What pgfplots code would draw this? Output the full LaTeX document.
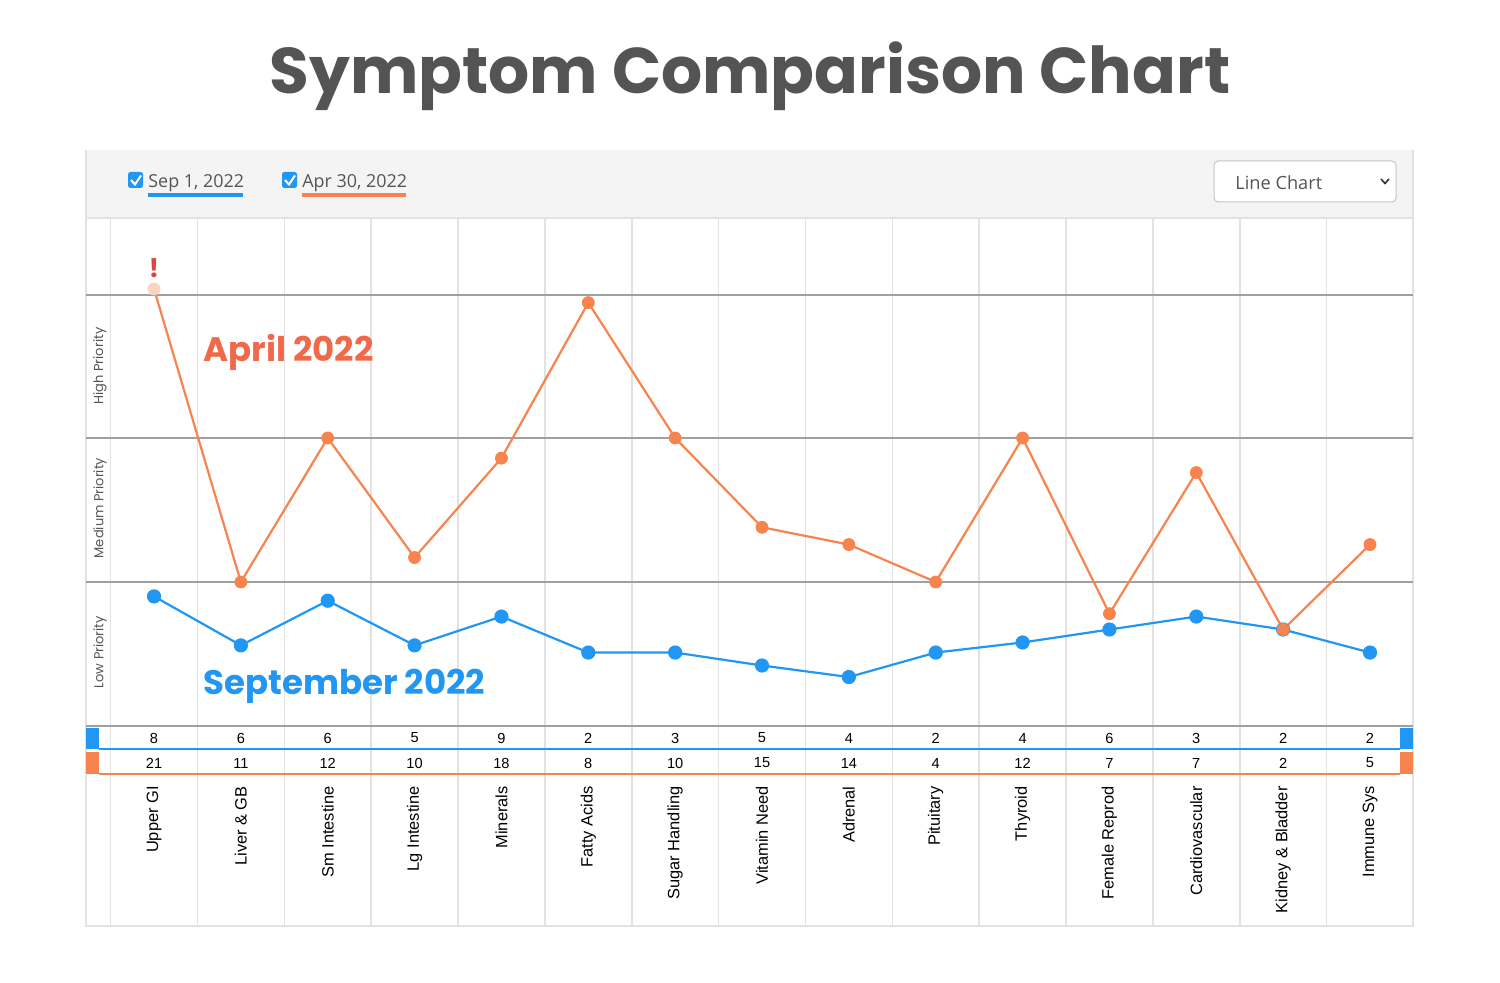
\documentclass[border=0pt]{standalone}
\usepackage{pgfplots}
\usepackage{pgfplotstable}
\pgfplotsset{compat=1.18}
\usepackage{fontspec}
\setmainfont{Liberation Sans}
\newfontfamily\pop{Poppins}
\newfontfamily\opensans{Open Sans}
\newfontfamily\lib{Liberation Sans}

\definecolor{orng}{HTML}{F7844F}
\definecolor{blu}{HTML}{2196F3}
\definecolor{aprt}{HTML}{F0694A}
\definecolor{titlec}{HTML}{545454}
\definecolor{gridc}{HTML}{E2E2E2}
\definecolor{bandc}{HTML}{A0A0A0}
\definecolor{hdr}{HTML}{F4F4F4}
\definecolor{lightor}{HTML}{FBD3C3}
\definecolor{txtg}{HTML}{555555}
\definecolor{exc}{HTML}{D9463F}

\pgfplotstableread[col sep=comma]{
x,sep,apr,sepn,aprn,cat
0,0.90,3.035,8,21,{Upper GI}
1,0.56,1.00,6,11,{Liver \& GB}
2,0.87,2.00,6,12,{Sm Intestine}
3,0.56,1.17,5,10,{Lg Intestine}
4,0.76,1.86,9,18,{Minerals}
5,0.51,2.94,2,8,{Fatty Acids}
6,0.51,2.00,3,10,{Sugar Handling}
7,0.42,1.38,5,15,{Vitamin Need}
8,0.34,1.26,4,14,{Adrenal}
9,0.51,1.00,2,4,{Pituitary}
10,0.58,2.00,4,12,{Thyroid}
11,0.67,0.78,6,7,{Female Reprod}
12,0.76,1.76,3,7,{Cardiovascular}
13,0.67,0.67,2,2,{Kidney \& Bladder}
14,0.51,1.26,2,5,{Immune Sys}
}\datatab

\begin{document}
\begin{tikzpicture}
\useasboundingbox (0,0) rectangle (750pt,491pt);
\begin{scope}[x=0.5pt,y=-0.5pt,yshift=491pt]
  % header
  \fill[hdr] (86,150) rectangle (1413,218);
  \draw[gridc, line width=0.8pt] (86,218) -- (1413,218);
  % verticals
  \foreach \k in {0,...,15} {
    \draw[gridc, line width=0.8pt] ({110.6+\k*86.86},218) -- ({110.6+\k*86.86},926);
  }
  \draw[gridc, line width=0.8pt] (86,150) -- (86,926) -- (1413,926) -- (1413,150);
  % bands
  \foreach \yy in {295,438,582,726} {
    \draw[bandc, line width=1.2pt] (86,\yy) -- (1413,\yy);
  }
  % table rows
  \draw[blu, line width=0.7pt] (99,749) -- (1400,749);
  \draw[orng, line width=0.7pt] (99,774) -- (1400,774);
  \fill[blu] (86,727.5) rectangle (99,749);
  \fill[blu] (1400,727.5) rectangle (1413,749);
  \fill[orng] (86,752) rectangle (99,774);
  \fill[orng] (1400,752) rectangle (1413,774);
  % title
  \node[text=titlec, font=\pop\bfseries\fontsize{32.3}{37}\selectfont] at (750,76) {Symptom Comparison Chart};
  % checkboxes
  \fill[blu, rounded corners=1.2pt] (128,172) rectangle (143,188);
  \draw[white, line width=1pt] (131,180) -- (135,184.5) -- (141,175.5);
  \fill[blu, rounded corners=1.2pt] (282,172) rectangle (297,188);
  \draw[white, line width=1pt] (285,180) -- (289,184.5) -- (295,175.5);
  \node[anchor=west, inner sep=0pt, text=txtg, font=\opensans\fontsize{8.95}{11}\selectfont] at (148,183) {Sep 1, 2022};
  \node[anchor=west, inner sep=0pt, text=txtg, font=\opensans\fontsize{8.95}{11}\selectfont] at (302,183) {Apr 30, 2022};
  \fill[blu] (148,193) rectangle (243,197);
  \fill[orng] (302,193) rectangle (406,197);
  % dropdown
  \draw[gray!45, fill=white, rounded corners=2pt, line width=0.5pt] (1214,161) rectangle (1396,202);
  \node[anchor=west, inner sep=0pt, text=txtg, font=\opensans\fontsize{9.1}{11}\selectfont] at (1235,183) {Line Chart};
  \draw[black!80, line width=0.8pt] (1381,179) -- (1385,183.5) -- (1389,179);
  % priority labels
  \node[rotate=90, text=txtg, font=\pop\fontsize{6.5}{8}\selectfont] at (100,366) {High Priority};
  \node[rotate=90, text=txtg, font=\pop\fontsize{6.5}{8}\selectfont] at (100,508) {Medium Priority};
  \node[rotate=90, text=txtg, font=\pop\fontsize{6.5}{8}\selectfont] at (100,652) {Low Priority};
  % annotations
  \node[anchor=west, inner sep=0pt, text=aprt, font=\pop\bfseries\fontsize{17}{20}\selectfont] at (203,352) {April 2022};
  \node[anchor=west, inner sep=0pt, text=blu, font=\pop\bfseries\fontsize{17}{20}\selectfont] at (203,686) {September 2022};
\end{scope}

\begin{axis}[
  at={(43pt,28pt)}, anchor=south west,
  scale only axis, width=663.5pt, height=388pt,
  xmin=-0.783, xmax=14.495, ymin=-1.3889, ymax=4.0,
  hide axis, clip=false,
]
\addplot[blu, line width=1.1pt, mark=*, mark size=3pt, mark options={fill=blu, draw=blu}] table[x=x, y=sep]{\datatab};
\addplot[orng, line width=1.1pt, mark=none] table[x=x, y=apr]{\datatab};
\addplot[only marks, mark=*, mark size=3pt, mark options={fill=orng, draw=orng}, restrict expr to domain={\coordindex}{1:14}] table[x=x, y=apr]{\datatab};
\addplot[only marks, mark=*, mark size=3pt, mark options={fill=lightor, draw=lightor},
  nodes near coords={\textbf{!}},
  every node near coord/.style={anchor=center, yshift=10.5pt, text=exc, font=\pop\bfseries\fontsize{13}{14}\selectfont}]
  coordinates {(0,3.035)};
% table numbers
\addplot[draw=none, mark=none, nodes near coords, point meta=explicit symbolic,
  every node near coord/.style={anchor=center, text=black, inner sep=0pt, font=\lib\fontsize{7.3}{9}\selectfont}]
  table[x=x, y expr=-0.0833, meta=sepn]{\datatab};
\addplot[draw=none, mark=none, nodes near coords, point meta=explicit symbolic,
  every node near coord/.style={anchor=center, text=black, inner sep=0pt, font=\lib\fontsize{7.3}{9}\selectfont}]
  table[x=x, y expr=-0.2569, meta=aprn]{\datatab};
% category labels
\addplot[draw=none, mark=none, nodes near coords, point meta=explicit symbolic,
  every node near coord/.style={rotate=90, anchor=east, text=black, inner sep=0pt, font=\lib\fontsize{8.2}{10}\selectfont}]
  table[x=x, y expr=-0.4167, meta=cat]{\datatab};
\end{axis}
\end{tikzpicture}
\end{document}
